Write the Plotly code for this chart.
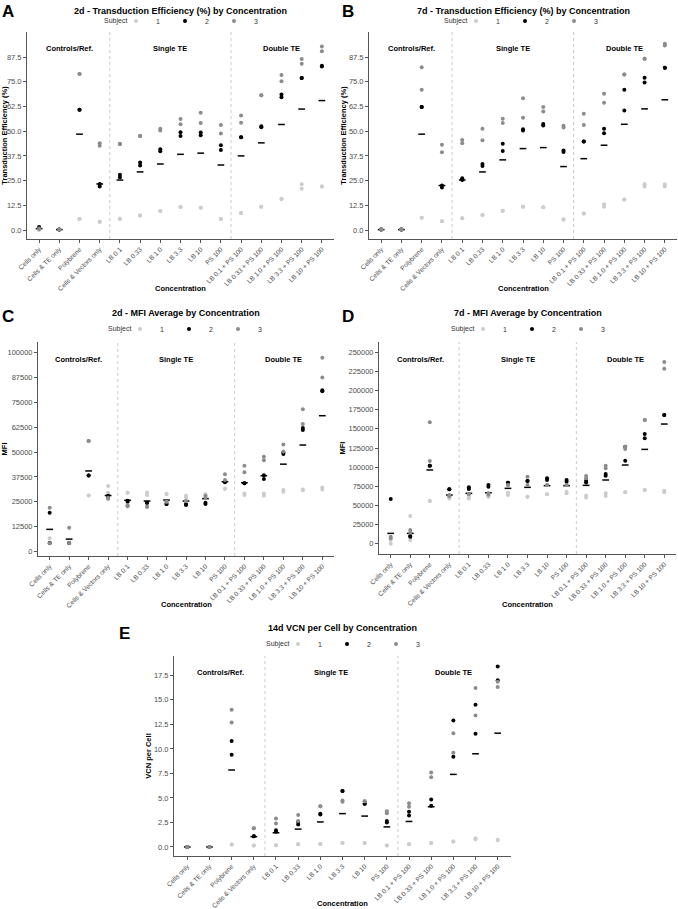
import plotly.graph_objects as go

W, H = 678, 909

CATEGORIES = ["Cells only", "Cells & TE only", "Polybrene", "Cells & Vectors only",
              "LB 0.1", "LB 0.33", "LB 1.0", "LB 3.3", "LB 10", "PS 100",
              "LB 0.1 + PS 100", "LB 0.33 + PS 100", "LB 1.0 + PS 100",
              "LB 3.3 + PS 100", "LB 10 + PS 100"]
SUBJECTS = ["1", "2", "3"]
GROUP_LABELS = ["Controls/Ref.", "Single TE", "Double TE"]

# ---- A: 2d transduction efficiency (%) ----
TE2_S1 = [[0.0, 0.3], [0.2, 0.1], [5.6, 5.6], [4.2, 4.2], [5.7, 5.7], [7.3, 7.3], [9.6, 9.6],
          [11.7, 11.7], [11.3, 11.3], [5.6, 5.6], [8.6, 8.6], [11.8, 11.8], [15.7, 15.7],
          [23.1, 20.9], [22.0, 22.0]]
TE2_S2 = [[1.0, 1.5], [0.2, 0.3], [60.8, 60.8], [23.3, 22.0], [27.9, 26.7], [34.1, 32.6],
          [40.9, 39.9], [49.5, 47.6], [49.3, 48.0], [42.9, 40.5], [47.0, 47.0], [52.5, 52.0],
          [68.6, 67.2], [76.9, 76.9], [83.1, 82.7]]
TE2_S3 = [[0.5, 0.8], [0.2, 0.2], [78.9, 78.9], [43.9, 42.6], [43.6, 43.4], [47.6, 47.6],
          [51.3, 50.3], [56.2, 53.5], [59.3, 54.2], [53.2, 48.8], [57.9, 54.3], [68.2, 68.2],
          [78.4, 75.3], [86.5, 84.1], [92.9, 90.5]]
TE2_MEAN = [0.7, 0.2, 48.5, 23.3, 25.3, 29.4, 33.4, 38.3, 38.9, 32.9, 37.5, 44.1, 53.4, 61.2, 65.5]

# ---- B: 7d transduction efficiency (%) ----
TE7_S1 = [[0.2, 0.2], [0.2, 0.2], [6.2, 6.2], [4.4, 4.4], [5.9, 5.9], [7.6, 7.6], [9.8, 9.8],
          [11.8, 11.8], [11.5, 11.5], [5.5, 5.2], [8.4, 8.4], [13.0, 11.8], [15.5, 15.5],
          [23.1, 22.0], [23.1, 22.0]]
TE7_S2 = [[0.3, 0.3], [0.3, 0.3], [62.2, 62.2], [22.5, 21.5], [26.2, 25.3], [33.4, 32.4],
          [43.6, 40.0], [51.0, 50.3], [53.7, 52.9], [40.2, 39.5], [44.8, 44.8], [51.2, 49.0],
          [71.0, 60.5], [77.0, 74.7], [82.1, 82.1]]
TE7_S3 = [[0.2, 0.2], [0.2, 0.2], [82.4, 71.0], [43.1, 39.4], [45.6, 43.9], [51.3, 45.4],
          [56.3, 54.2], [66.7, 56.8], [62.2, 60.0], [52.7, 51.9], [58.8, 53.2], [68.9, 64.4],
          [78.7, 78.7], [86.7, 86.7], [94.3, 93.4]]
TE7_MEAN = [0.2, 0.2, 48.5, 22.5, 25.3, 29.4, 35.5, 41.2, 41.7, 32.1, 36.1, 42.9, 53.5, 61.3, 65.9]

# ---- C: 2d MFI ----
MFI2_S1 = [[6700, 4500], [4500, 4400], [28200, 28200], [33000, 29500], [29500, 29500],
           [29700, 28400], [28900, 28900], [28100, 27200], [28900, 28100], [31700, 31500],
           [29200, 28400], [29200, 28100], [30900, 30100], [31200, 30800], [32200, 31200]]
MFI2_S2 = [[19500, 4300], [4300], [38200, 38200], [28000, 27800], [25500, 25000], [24600, 24600],
           [23900, 23900], [23900, 23400], [24600, 23900], [34800, 35100], [34300, 34300],
           [38400, 36400], [49800, 49000], [62000, 61000], [81000, 80500]]
MFI2_S3 = [[22000, 4200], [12000, 4300], [55500, 55500], [27000, 26500], [23300, 22800],
           [22600, 22600], [25000, 25000], [25400, 25400], [28000, 27000], [38800, 35900],
           [43100, 39800], [47600, 45800], [53800, 50300], [71500, 64000], [97300, 87400]]
MFI2_MEAN = [11200, 6300, 40500, 28200, 25800, 25400, 25900, 25400, 26600, 35100, 34600,
             38100, 43900, 53500, 68200]

# ---- D: 7d MFI ----
MFI7_S1 = [[4800, 0], [36100, 4800], [55700, 55700], [61400, 59000], [59200, 60500],
           [62300, 61000], [66600, 63500], [61400, 61400], [64500, 64500], [67900, 65800],
           [62700, 60500], [65800, 62300], [67100, 67100], [70100, 70100], [69200, 67100]]
MFI7_S2 = [[58400], [10000, 9000], [101900, 101900], [71000, 71000], [73600, 71400],
           [76600, 74500], [79700, 79700], [81900, 81900], [85400, 83200], [83200, 81000],
           [82300, 80100], [91000, 88800], [126700, 108400], [143300, 137600], [168100, 168100]]
MFI7_S3 = [[9100, 7000], [17900, 14400], [158500, 107900], [63500, 62000], [65000, 64500],
           [66000, 64000], [76600, 76600], [87500, 76600], [76600, 76600], [76600, 76600],
           [88400, 85400], [101900, 98400], [126700, 123700], [161600, 161600], [237300, 228600]]
MFI7_MEAN = [13500, 13500, 96300, 63600, 65800, 66500, 72300, 73600, 75800, 75800, 76200,
             83200, 102800, 123200, 156300]

# ---- E: 14d VCN per cell ----
VCN_S1 = [[0.0, 0.0], [0.0, 0.0], [0.25, 0.25], [0.15, 0.15], [0.17, 0.17], [0.27, 0.27],
          [0.3, 0.3], [0.4, 0.4], [0.4, 0.4], [0.15, 0.15], [0.27, 0.27], [0.4, 0.4],
          [0.55, 0.55], [0.9, 0.8], [0.7, 0.7]]
VCN_S2 = [[0.0, 0.0], [0.0, 0.0], [10.8, 9.4], [1.1, 1.1], [1.7, 1.55], [2.55, 2.3], [3.4, 3.3],
          [5.7, 5.7], [4.4, 4.4], [2.65, 2.5], [3.6, 3.2], [4.85, 4.2], [12.9, 9.2],
          [14.5, 11.55], [18.4, 17.0]]
VCN_S3 = [[0.0, 0.0], [0.0, 0.0], [14.0, 12.7], [1.9, 1.9], [2.9, 2.4], [3.25, 2.65],
          [4.15, 4.15], [4.75, 4.6], [4.65, 4.65], [3.65, 3.45], [4.45, 4.1], [7.6, 7.1],
          [11.6, 9.6], [16.2, 13.4], [16.85, 16.3]]
VCN_MEAN = [0.0, 0.0, 7.85, 1.05, 1.45, 1.82, 2.55, 3.4, 3.15, 2.05, 2.6, 4.1, 7.4, 9.5, 11.6]

TE_TICKS = [0, 12.5, 25, 37.5, 50, 62.5, 75, 87.5]
MFI2_TICKS = [0, 12500, 25000, 37500, 50000, 62500, 75000, 87500, 100000]
MFI7_TICKS = [0, 25000, 50000, 75000, 100000, 125000, 150000, 175000, 200000, 225000, 250000]
VCN_TICKS = [0, 2.5, 5, 7.5, 10, 12.5, 15, 17.5]

# ---------------- layout / styling ----------------
FONT = "Liberation Sans, Arial, sans-serif"
SUBJ_COLORS = ["#cccccc", "#000000", "#8c8c8c"]
TICK_COLOR = "#4d4d4d"

PANELS = [
    dict(letter="A", title="2d - Transduction Efficiency (%) by Concentration",
         ytitle="Transduction Efficiency (%)", data=(TE2_S1, TE2_S2, TE2_S3), mean=TE2_MEAN,
         ticks=TE_TICKS, fmt=".1f", yrange=[-4.55, 100.2], box=(27, 334, 32, 239),
         title_y=11.5, legend_y=21, legend_x=181, letter_xy=(0, 0), xtitle_y=288),
    dict(letter="B", title="7d - Transduction Efficiency (%) by Concentration",
         ytitle="Transduction Efficiency (%)", data=(TE7_S1, TE7_S2, TE7_S3), mean=TE7_MEAN,
         ticks=TE_TICKS, fmt=".1f", yrange=[-4.55, 100.2], box=(369, 677, 32, 239),
         title_y=11.5, legend_y=21, legend_x=521, letter_xy=(340, 0), xtitle_y=288),
    dict(letter="C", title="2d - MFI Average by Concentration",
         ytitle="MFI", data=(MFI2_S1, MFI2_S2, MFI2_S3), mean=MFI2_MEAN,
         ticks=MFI2_TICKS, fmt="d", yrange=[-2160, 105170], box=(38, 334, 342, 556),
         title_y=313, legend_y=329, legend_x=185, letter_xy=(0, 305), xtitle_y=604),
    dict(letter="D", title="7d - MFI Average by Concentration",
         ytitle="MFI", data=(MFI7_S1, MFI7_S2, MFI7_S3), mean=MFI7_MEAN,
         ticks=MFI7_TICKS, fmt="d", yrange=[-13450, 263450], box=(379, 676, 342, 554),
         title_y=313, legend_y=329, legend_x=528, letter_xy=(340, 305), xtitle_y=604),
    dict(letter="E", title="14d VCN per Cell by Concentration",
         ytitle="VCN per Cell", data=(VCN_S1, VCN_S2, VCN_S3), mean=VCN_MEAN,
         ticks=VCN_TICKS, fmt=".1f", yrange=[-0.92, 19.47], box=(174, 511, 656, 856),
         title_y=628, legend_y=644, legend_x=343, letter_xy=(117, 622), xtitle_y=903),
]


def px_x(v):
    return v / W


def px_y(v):
    return 1 - v / H


fig = go.Figure()
annotations = []
shapes = []
layout = {}

for i, p in enumerate(PANELS, start=1):
    sfx = "" if i == 1 else str(i)
    xa, ya = "x" + sfx, "y" + sfx
    leg = "legend" + sfx
    x0, x1, y0, y1 = p["box"]
    cx = (x0 + x1) / 2

    # mean markers first (underneath the points)
    fig.add_trace(go.Scatter(
        x=CATEGORIES, y=p["mean"], mode="markers", xaxis=xa, yaxis=ya,
        marker=dict(symbol="line-ew", size=4.8, line=dict(width=1.5, color="#000000")),
        showlegend=False, hoverinfo="skip"))

    for s, (subj, vals) in enumerate(zip(SUBJECTS, p["data"])):
        xs, ys = [], []
        for cat, v in zip(CATEGORIES, vals):
            xs += [cat] * len(v)
            ys += list(v)
        fig.add_trace(go.Scatter(
            x=xs, y=ys, mode="markers", name=subj, xaxis=xa, yaxis=ya, legend=leg,
            marker=dict(size=4, color=SUBJ_COLORS[s]), showlegend=True))

    layout["xaxis" + sfx] = dict(
        domain=[px_x(x0), px_x(x1)], anchor=ya, type="category", automargin=False,
        categoryorder="array", categoryarray=CATEGORIES, range=[-0.6, 14.6],
        showline=True, linecolor="#555555", linewidth=1, showgrid=False, zeroline=False,
        ticks="outside", ticklen=3, tickcolor="#555555", tickangle=-45,
        tickfont=dict(size=6.6, color=TICK_COLOR, family=FONT))
    layout["yaxis" + sfx] = dict(
        domain=[px_y(y1), px_y(y0)], anchor=xa, range=p["yrange"], automargin=False,
        tickvals=p["ticks"], tickformat=p["fmt"],
        showline=True, linecolor="#555555", linewidth=1, showgrid=False, zeroline=False,
        ticks="outside", ticklen=3, tickcolor="#555555",
        tickfont=dict(size=7.5, color=TICK_COLOR, family=FONT),
        title=dict(text="<b>" + p["ytitle"] + "</b>", font=dict(size=7.5, color="#000000", family=FONT),
                   standoff=1))

    # x-axis title, placed just under the rotated tick labels
    annotations.append(dict(text="<b>Concentration</b>", x=px_x(cx), y=px_y(p["xtitle_y"]),
                            xref="paper", yref="paper", xanchor="center", yanchor="middle",
                            showarrow=False, font=dict(size=7.5, color="#000000", family=FONT)))

    # legend: entries anchored on the left; its "Subject" caption sits just left of the symbols
    lx0 = p["legend_x"] - 65
    layout[leg] = dict(
        orientation="h", x=px_x(lx0), xanchor="left", y=px_y(p["legend_y"]), yanchor="middle",
        font=dict(size=7, color="#333333", family=FONT), bgcolor="rgba(0,0,0,0)",
        borderwidth=0, itemwidth=30, tracegroupgap=0, itemclick=False, itemdoubleclick=False)
    annotations.append(dict(text="Subject", x=px_x(lx0 + 13), y=px_y(p["legend_y"]),
                            xref="paper", yref="paper", xanchor="right", yanchor="middle",
                            showarrow=False, font=dict(size=7, color="#333333", family=FONT)))

    # dashed separators between the three groups
    for xv in (3.5, 9.5):
        shapes.append(dict(type="line", xref=xa, yref=ya + " domain", x0=xv, x1=xv, y0=0, y1=1,
                           line=dict(color="#bdbdbd", width=0.8, dash="dot")))
    # group labels
    for lbl, xv in zip(GROUP_LABELS, (1.5, 6.5, 12)):
        annotations.append(dict(text="<b>" + lbl + "</b>", x=xv, y=0.95, xref=xa, yref=ya + " domain",
                                showarrow=False, font=dict(size=7.5, color="#000000", family=FONT)))
    # panel title
    annotations.append(dict(text="<b>" + p["title"] + "</b>", x=px_x(cx), y=px_y(p["title_y"]),
                            xref="paper", yref="paper", xanchor="center", yanchor="middle",
                            showarrow=False, font=dict(size=9, color="#000000", family=FONT)))
    # panel letter
    lx, ly = p["letter_xy"]
    annotations.append(dict(text="<b>" + p["letter"] + "</b>", x=px_x(lx), y=px_y(ly),
                            xref="paper", yref="paper", xanchor="left", yanchor="top",
                            showarrow=False, font=dict(size=17, color="#000000", family=FONT)))

fig.update_layout(
    width=W, height=H, margin=dict(l=0, r=0, t=0, b=0, pad=0, autoexpand=False),
    paper_bgcolor="white", plot_bgcolor="white",
    font=dict(family=FONT, size=7, color="#333333"),
    annotations=annotations, shapes=shapes, **layout)

fig.write_html("out.html", config={"displayModeBar": False},
               post_script="document.body.style.margin='0px';")
